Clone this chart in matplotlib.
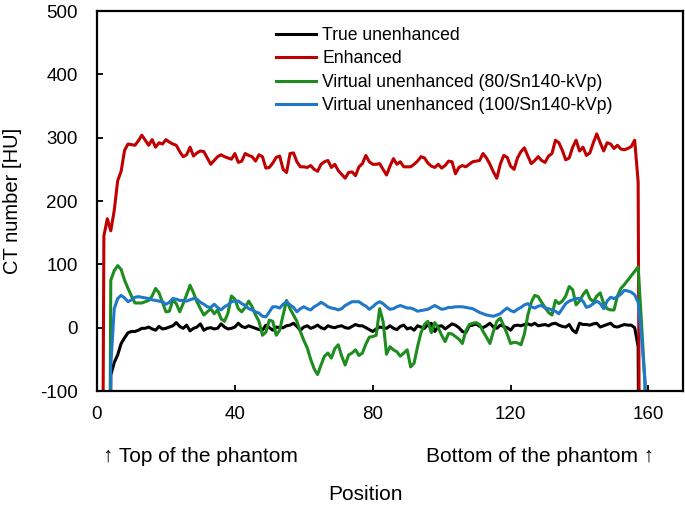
import numpy as np
import matplotlib
matplotlib.use("Agg")
import matplotlib.pyplot as plt

plt.rcParams['font.family'] = ['Liberation Sans', 'DejaVu Sans']
plt.rcParams['axes.unicode_minus'] = False

# position along the phantom (0..160), values in HU; -1000 = air outside phantom
position = np.arange(0, 161)

true_unenh = [
    -1000, -1000, -1000, -1000, -75, -55, -43, -25, -16, -8,
    -6, -6, -4, -1, -1, 1, -2, -4, 2, -2,
    -1, 1, 3, 8, 2, -1, 4, -5, -1, 1,
    6, -4, -1, 0, -2, -1, 6, 1, -2, -1,
    1, 7, 2, 0, 3, 1, -1, -3, -4, 4,
    0, -4, 1, 0, 0, 3, 4, 7, 2, -4,
    1, 3, -1, 1, 4, 0, -2, 3, 1, 0,
    2, 3, 0, -1, 2, 5, 3, 3, 0, -3,
    -6, -2, 1, 0, -1, 3, -1, -3, 2, 4,
    -2, 0, -4, 3, 1, -1, 5, 7, -6, 2,
    3, -2, 2, 6, 4, 0, -6, -8, 3, 4,
    6, 2, 0, 3, 7, 1, -1, 4, 2, 0,
    -4, 3, 4, 3, 5, 6, 4, 7, 3, 4,
    5, 3, 6, 7, 4, 2, 1, 5, -4, -8,
    7, 5, 5, 4, 6, 7, 1, 3, 5, 7,
    2, 1, 3, 5, 4, 4, 0, -30, -1000, -1000,
    -1000,
]

enhanced = [
    -1000, -1000, 145, 172, 153, 185, 232, 247, 280, 290,
    289, 288, 295, 304, 296, 288, 297, 285, 292, 290,
    297, 293, 290, 288, 278, 270, 273, 285, 271, 276,
    279, 278, 268, 258, 264, 270, 273, 270, 268, 266,
    275, 261, 263, 275, 272, 270, 263, 273, 270, 252,
    253, 260, 269, 271, 250, 245, 275, 276, 262, 254,
    254, 253, 256, 250, 247, 258, 262, 264, 253, 258,
    248, 242, 236, 245, 246, 240, 254, 259, 272, 262,
    258, 258, 259, 250, 241, 255, 267, 258, 262, 254,
    254, 254, 258, 263, 270, 268, 260, 255, 253, 258,
    252, 256, 263, 262, 243, 253, 256, 254, 258, 262,
    263, 264, 275, 268, 258, 246, 236, 258, 272, 269,
    255, 250, 268, 278, 284, 271, 259, 264, 270, 264,
    261, 271, 275, 296, 292, 280, 265, 268, 285, 296,
    279, 285, 272, 276, 292, 306, 292, 279, 292, 290,
    283, 288, 282, 281, 283, 286, 296, 230, -1000, -1000,
    -1000,
]

virtual_80 = [
    -1000, -1000, -1000, -1000, 75, 90, 98, 92, 75, 62,
    50, 39, 39, 39, 41, 43, 50, 62, 55, 40,
    25, 26, 44, 38, 25, 38, 52, 67, 55, 41,
    30, 20, 25, 30, 22, 28, 14, 10, 23, 50,
    45, 30, 25, 32, 42, 33, 20, 10, -12, -7,
    12, 10, -12, -4, 20, 43, 30, 20, 10, -6,
    -20, -32, -50, -65, -74, -59, -45, -40, -48, -33,
    -27, -45, -59, -43, -40, -35, -44, -40, -26, -15,
    -14, -12, 30, 10, -42, -30, -35, -38, -45, -40,
    -35, -62, -56, -30, -8, 5, 10, -8, 8, 0,
    -12, -22, -9, -10, -14, -18, -25, -5, 5, 7,
    8, 5, -6, -15, -25, -6, 10, 15, 3, -10,
    -25, -23, -24, -27, -10, 20, 40, 51, 49, 40,
    32, 24, 20, 43, 38, 42, 50, 65, 60, 36,
    42, 52, 59, 46, 41, 50, 55, 38, 30, 28,
    28, 50, 62, 68, 75, 82, 89, 96, 5, -90,
    -1000,
]

virtual_100 = [
    -1000, -1000, -1000, -1000, -60, 30, 46, 51, 47, 41,
    44, 48, 49, 48, 47, 46, 44, 43, 42, 41,
    37, 40, 46, 45, 43, 43, 42, 44, 46, 45,
    40, 37, 33, 32, 37, 32, 28, 33, 36, 41,
    42, 42, 38, 35, 30, 28, 25, 23, 18, 17,
    25, 33, 33, 31, 37, 41, 36, 32, 25, 30,
    33, 30, 28, 33, 36, 40, 37, 33, 31, 30,
    28, 30, 35, 38, 41, 41, 41, 37, 34, 29,
    33, 38, 41, 38, 33, 29, 30, 33, 35, 33,
    31, 31, 29, 26, 27, 28, 29, 32, 35, 32,
    29, 30, 32, 32, 33, 33, 33, 32, 31, 30,
    27, 24, 22, 20, 19, 18, 20, 22, 27, 31,
    27, 25, 29, 32, 36, 38, 33, 31, 34, 35,
    31, 30, 28, 26, 22, 30, 38, 42, 44, 46,
    46, 42, 32, 34, 38, 42, 38, 30, 42, 48,
    46, 49, 53, 59, 58, 56, 52, 40, -15, -85,
    -1000,
]

labels = ["True unenhanced", "Enhanced",
          "Virtual unenhanced (80/Sn140-kVp)",
          "Virtual unenhanced (100/Sn140-kVp)"]
colors = ["#000000", "#c00000", "#1e8c1e", "#1f78c8"]

fig = plt.figure(figsize=(6.85, 5.08), dpi=100)
ax = fig.add_axes([0.1416, 0.2303, 0.8554, 0.748])

for y, lab, c in zip([true_unenh, enhanced, virtual_80, virtual_100], labels, colors):
    ax.plot(position, y, color=c, lw=2.2, label=lab)

ax.set_xlim(0, 170)
ax.set_ylim(-100, 500)
ax.set_xticks([0, 40, 80, 120, 160])
ax.set_yticks(range(-100, 501, 100))
ax.tick_params(direction="in", length=4, width=1.3, labelsize=13.5, pad=14)
ax.tick_params(axis="x", pad=10.5)
for s in ax.spines.values():
    s.set_linewidth(1.6)

ax.set_ylabel("CT number [HU]", fontsize=14.5)
ax.yaxis.set_label_coords(-0.128, 0.5)

leg = ax.legend(loc="upper left", bbox_to_anchor=(0.305, 0.958), frameon=False,
                fontsize=12.7, handlelength=2.3, handletextpad=0.35,
                labelspacing=0.36, borderpad=0, borderaxespad=0)

fig.text(103 / 685, 1 - 456 / 508, "↑ Top of the phantom", fontsize=15,
         ha="left", va="center")
fig.text(654 / 685, 1 - 456 / 508, "Bottom of the phantom ↑", fontsize=15,
         ha="right", va="center")
fig.text(365 / 685, 1 - 494 / 508, "Position", fontsize=15, ha="center", va="center")

fig.savefig("out.png", dpi=100)
